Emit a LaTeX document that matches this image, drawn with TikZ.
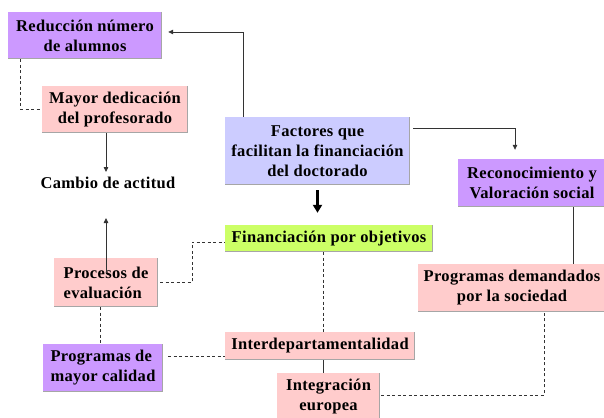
\documentclass[tikz,border=0pt]{standalone}
\usepackage{fontspec}
\setmainfont{Liberation Serif}[LetterSpace=2]
\usetikzlibrary{arrows.meta}
\definecolor{cpurple}{HTML}{CC99FF}
\definecolor{cpink}{HTML}{FFCCCC}
\definecolor{clav}{HTML}{CCCCFF}
\definecolor{cgreen}{HTML}{CCFF66}
\definecolor{cline}{HTML}{333333}
\tikzset{
  box/.style={fill=#1, draw=none, inner sep=0pt, align=center,
    font=\fontsize{16.5}{20}\selectfont\bfseries, text=black,
    path picture={\draw[black!35, line width=1.2pt]
      ([xshift=-0.6pt]path picture bounding box.north east) --
      ([xshift=-0.6pt,yshift=0.6pt]path picture bounding box.south east) --
      ([yshift=0.6pt]path picture bounding box.south west);}},
  conn/.style={draw=cline, line width=0.8pt},
  dconn/.style={draw=cline, line width=0.8pt, dash pattern=on 3pt off 2.5pt},
  arr/.style={conn, -{Triangle[length=5pt,width=4.5pt]}},
  bigarr/.style={draw=black, line width=2.4pt, -{Triangle[length=8pt,width=9pt]}},
}
\begin{document}
\begin{tikzpicture}[x=1pt,y=-1pt]
\useasboundingbox (0,0) rectangle (604,417);
\begin{scope}
\clip (0,0) rectangle (604,417);
\node[box=cpurple, minimum width=154pt, minimum height=47pt] (red) at (85,35.5) {Reducción número\\de alumnos};
\node[box=cpink, minimum width=146pt, minimum height=47pt] (may) at (115,109.5) {Mayor dedicación\\del profesorado};
\node[font=\fontsize{16.5}{20}\selectfont\bfseries, inner sep=0pt] (cam) at (108,183) {Cambio de actitud};
\node[box=clav, minimum width=185pt, minimum height=68pt] (fac) at (317.5,151) {Factores que\\facilitan la financiación\\del doctorado};
\node[box=cpurple, minimum width=148pt, minimum height=48pt] (rec) at (532,183) {Reconocimiento y\\Valoración social};
\node[box=cgreen, minimum width=208pt, minimum height=27pt] (fin) at (329,238.5) {Financiación por objetivos};
\node[box=cpink, minimum width=188pt, minimum height=48pt] (dem) at (512,288) {Programas demandados\\por la sociedad};
\node[box=cpink, minimum width=190pt, minimum height=28pt] (int) at (320,346) {Interdepartamentalidad};
\node[box=cpink, minimum width=103pt, minimum height=48pt] (eur) at (328.5,397) {Integración\\europea};
\node[box=cpink, minimum width=104pt, minimum height=49pt, align=left] (pro) at (106,282.5) {Procesos de\\evaluación};
\node[box=cpurple, minimum width=120pt, minimum height=48pt, align=left] (cal) at (103,368) {Programas de\\mayor calidad};
\end{scope}

% connectors
\draw[dconn] (red.south west) ++(13,0) |- (may.west);
\draw[arr] ([xshift=-9pt]may.south) -- ([xshift=-9pt]may.south |- 0,172);
\coordinate (b1) at (243,32);
\draw[arr] ([xshift=-74.5pt]fac.north) |- ([xshift=6pt]red.east |- b1);
\coordinate (c1) at (515,128);
\draw[arr] ([xshift=3pt]fac.east |- c1) -| ([yshift=9pt]rec.north -| c1);
\draw[bigarr] ([yshift=-5pt]fac.south) -- ([yshift=12pt]fin.north -| fac.south);
\draw[conn] ([xshift=41pt]rec.south) -- ([xshift=41pt]rec.south |- dem.north);
\draw[dconn] ([xshift=-6pt]fin.south) -- ([xshift=-6pt]fin.south |- int.north);
\draw[conn] ([xshift=3pt]int.south) -- ([xshift=3pt]int.south |- eur.north);
\coordinate (d1) at (544,395);
\draw[dconn] ([xshift=1pt]eur.east |- d1) -| (dem.south -| d1);
\draw[arr] ([yshift=-15pt]pro.north) -- ([yshift=-15pt]pro.north |- 0,203);
\coordinate (e1) at (192,242);
\draw[dconn] ([xshift=2pt]pro.east) -| (e1) -- (fin.west |- e1);
\draw[dconn] ([xshift=-6pt]pro.south) -- ([xshift=-6pt]pro.south |- cal.north);
\coordinate (f1) at (168,356);
\draw[dconn] (f1) -- (int.west |- f1);
\end{tikzpicture}
\end{document}
